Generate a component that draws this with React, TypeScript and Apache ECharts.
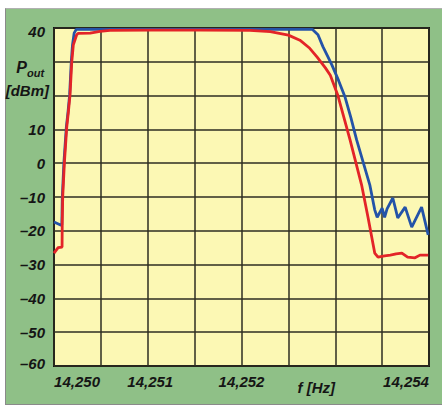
import React, { useEffect, useRef } from "react";
import * as echarts from "echarts";

// Frequency axis ticks (kHz) and their printed labels
const xTickValues = [14250, 14251, 14252, 14253, 14254];
const xTickLabels = ["14,250", "14,251", "14,252", "f [Hz]", "14,254"];
// Output power axis ticks (dBm)
const yTickValues = [40, 30, 20, 10, 0, -10, -20, -30, -40, -50, -60];

// Blue trace: [frequency, Pout dBm]
const blueData: [number, number][] = [
  [14249.72, -17.4], [14249.74, -17.6], [14249.8, -18.3], [14249.815, -18.3],
  [14249.821, -10], [14249.84, 0], [14249.87, 10.7], [14249.89, 15],
  [14249.91, 20.2], [14249.93, 30], [14249.945, 35], [14249.965, 38.5],
  [14249.99, 39.6], [14252.86, 39.6],
  [14252.93, 38], [14252.99, 34.5], [14253.05, 31.5], [14253.1, 29],
  [14253.18, 24.5], [14253.26, 19.5], [14253.33, 13.5], [14253.4, 6.9],
  [14253.56, -6.4], [14253.62, -13.8],
  [14253.65, -16], [14253.71, -13.3], [14253.74, -16], [14253.77, -13.5],
  [14253.84, -10.3], [14253.9, -16.2], [14253.99, -13], [14254.07, -18.9],
  [14254.19, -13], [14254.27, -21.2],
];

// Red trace: [frequency, Pout dBm]
const redData: [number, number][] = [
  [14249.72, -26.6], [14249.77, -25], [14249.818, -24.8], [14249.82, -18.3],
  [14249.826, -10], [14249.846, 0], [14249.875, 10.7], [14249.894, 15],
  [14249.915, 20.2], [14249.936, 30], [14249.955, 35], [14249.996, 38],
  [14250.012, 38.4], [14250.16, 38.5], [14250.28, 39], [14250.4, 39.3],
  [14250.9, 39.4], [14251.5, 39.4], [14252.1, 39.3], [14252.35, 38.9],
  [14252.57, 37.9], [14252.71, 36.4], [14252.83, 34], [14252.92, 31.4],
  [14253.02, 28.2], [14253.08, 26], [14253.17, 20.2], [14253.32, 6.9],
  [14253.46, -6.4], [14253.54, -16.2], [14253.62, -26.6], [14253.66, -27.8],
  [14253.74, -27.4], [14253.81, -27.2], [14253.88, -26.8], [14253.95, -26.6],
  [14254.02, -27.8], [14254.11, -28], [14254.17, -27.2], [14254.27, -27.2],
];

const FONT = "'Liberation Sans', Arial, sans-serif";

export default function App() {
  const ref = useRef<HTMLDivElement>(null);
  useEffect(() => {
    if (!ref.current) return;
    const chart = echarts.init(ref.current, undefined, { renderer: "svg" });
    const labelStyle = {
      fontFamily: FONT,
      fontSize: 15,
      fontWeight: "bold" as const,
      fontStyle: "italic" as const,
      color: "#151515",
    };
    chart.setOption({
      animation: false,
      backgroundColor: "transparent",
      grid: {
        left: 54,
        right: 13,
        top: 28,
        bottom: 42,
        show: true,
        backgroundColor: "#fcf8b4",
        borderColor: "#151515",
        borderWidth: 2,
        z: 0,
      },
      xAxis: [
        {
          type: "value",
          min: 14249.72,
          max: 14254.28,
          axisLine: { show: false },
          axisTick: { show: false },
          splitLine: { show: false },
          axisLabel: {
            ...labelStyle,
            margin: 8,
            customValues: xTickValues,
            formatter: (v: number) => {
              const i = xTickValues.findIndex((t) => Math.abs(t - v) < 1e-6);
              const s = i >= 0 ? xTickLabels[i] : "";
              if (i === 1) return "{a|" + s + "}";
              if (i === 3) return "{f|" + s + "}";
              return s;
            },
            rich: {
              a: { ...labelStyle, padding: [0, 18, 0, 0] },
              f: { ...labelStyle, padding: [6, 15, 0, 0] },
            },
          },
        },
        {
          type: "value",
          min: 0,
          max: 8,
          interval: 1,
          axisLine: { show: false },
          axisTick: { show: false },
          axisLabel: { show: false },
          splitLine: { show: true, lineStyle: { color: "#2e2e22", width: 1.5 } },
        },
      ],
      yAxis: {
        type: "value",
        min: -60,
        max: 40,
        interval: 10,
        axisLine: { show: false },
        axisTick: { show: false },
        splitLine: { show: true, lineStyle: { color: "#2e2e22", width: 1.5 } },
        axisLabel: {
          ...labelStyle,
          margin: 9,
          formatter: (v: number) => {
            if (!yTickValues.includes(v) || v === 30 || v === 20) return "";
            const s = v < 0 ? "\u2013" + Math.abs(v) : String(v);
            if (v === 40) return "{t|" + s + "}";
            if (v === -60) return "{b|" + s + "}";
            return s;
          },
          rich: {
            t: { ...labelStyle, padding: [7, 0, 0, 0] },
            b: { ...labelStyle, padding: [0, 0, 6, 0] },
          },
        },
      },
      graphic: [
        {
          type: "text",
          x: 27,
          y: 59,
          style: {
            text: "P",
            fontFamily: FONT,
            fontSize: 16,
            fontWeight: "bold",
            fontStyle: "italic",
            fill: "#151515",
            align: "right",
            verticalAlign: "top",
          },
        },
        {
          type: "text",
          x: 27,
          y: 67,
          style: {
            text: "out",
            fontFamily: FONT,
            fontSize: 11,
            fontWeight: "bold",
            fontStyle: "italic",
            fill: "#151515",
            align: "left",
            verticalAlign: "top",
          },
        },
        {
          type: "text",
          x: 49,
          y: 90,
          style: {
            text: "[dBm]",
            fontFamily: FONT,
            fontSize: 15,
            fontWeight: "bold",
            fontStyle: "italic",
            fill: "#151515",
            align: "right",
            verticalAlign: "middle",
          },
        },
      ],
      series: [
        {
          type: "line",
          name: "blue",
          xAxisIndex: 0,
          data: blueData,
          showSymbol: false,
          lineStyle: { color: "#2453a8", width: 2.8 },
          z: 3,
        },
        {
          type: "line",
          name: "red",
          xAxisIndex: 0,
          data: redData,
          showSymbol: false,
          lineStyle: { color: "#e32428", width: 2.8 },
          z: 4,
        },
      ],
    });
    return () => chart.dispose();
  }, []);

  return (
    <div style={{ position: "absolute", left: 0, top: 0, width: 442, height: 408, background: "#ffffff" }}>
      <div
        style={{
          position: "absolute",
          left: 5,
          top: 8,
          width: 437,
          height: 397,
          background: "#8fc087",
          borderLeft: "1px solid #8a8a8a",
          borderTop: "1px solid #b0b0b0",
          borderBottom: "1px solid #8a8a8a",
          boxSizing: "border-box",
        }}
      />
      <div ref={ref} style={{ position: "absolute", left: 0, top: 0, width: 442, height: 408 }} />
    </div>
  );
}
